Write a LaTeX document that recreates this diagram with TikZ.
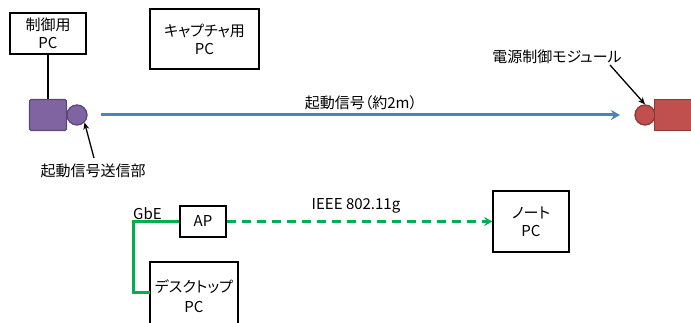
\documentclass[tikz,border=0pt]{standalone}
\usepackage{fontspec}
\setmainfont{Noto Sans CJK JP}[RawFeature=+palt]
\usetikzlibrary{arrows.meta}
\definecolor{pfill}{HTML}{8064A2}
\definecolor{pdraw}{HTML}{5C4776}
\definecolor{rfill}{HTML}{C0504D}
\definecolor{rdraw}{HTML}{8C3836}
\definecolor{bline}{HTML}{4F81BD}
\definecolor{gline}{HTML}{00B050}
\tikzset{
  pcbox/.style={draw=black, line width=1.5pt, fill=white, inner sep=0pt, align=center, font=\fontsize{15}{18}\selectfont},
  lbl/.style={inner sep=0pt, font=\fontsize{15}{18}\selectfont},
  ptr/.style={-{Stealth[length=7pt,width=6pt]}, line width=1.3pt, black}
}
\begin{document}
\begin{tikzpicture}[x=1pt,y=-1pt]
\useasboundingbox (0,0) rectangle (691,323);
\clip (0,0) rectangle (691,323);
% boxes
\node[pcbox, minimum width=76pt, minimum height=41pt] (ctl) at (48,33.5) {制御用\\PC};
\node[pcbox, minimum width=109pt, minimum height=60pt] (cap) at (204.5,39) {キャプチャ用\\PC};
\node[pcbox, minimum width=76pt, minimum height=61pt] (note) at (531,221.5) {ノート\\PC};
\node[pcbox, minimum width=46pt, minimum height=31pt] (ap) at (203,221.5) {AP};
% desktop box (cut by the bottom edge)
\draw[line width=1.5pt, fill=white] (150,335) -- (150,262) -- (238,262) -- (238,335);
\node[lbl, align=center, font=\fontsize{15}{20}\selectfont] (desk) at (194,296) {デスクトップ\\PC};
\coordinate (deskL) at (150,292);
% purple sender
\node[draw=pdraw, fill=pfill, line width=1.3pt, rounded corners=1.5pt, minimum width=37pt, minimum height=31pt, inner sep=0pt] (psq) at (48,115) {};
\node[draw=pdraw, fill=pfill, line width=1.3pt, circle, minimum size=20pt, inner sep=0pt] (pci) at (77,115) {};
% red module
\node[draw=rdraw, fill=rfill, line width=1.3pt, circle, minimum size=20pt, inner sep=0pt] (rci) at (645,115) {};
\node[draw=rdraw, fill=rfill, line width=1.3pt, minimum width=37pt, minimum height=31pt, inner sep=0pt] (rsq) at (673,115) {};
% control line
\draw[line width=1.5pt] (ctl.south) -- (psq.north);
% blue arrow
\coordinate (bs) at (101,115);
\coordinate (be) at (620,115);
\draw[bline, line width=3pt, -{Stealth[length=9pt,width=10pt]}] (bs) -- (be);
\node[lbl] (sig) at (361,103) {起動信号（約2m）};
% labels with pointers
\node[lbl] (sendlbl) at (93,171) {起動信号送信部};
\draw[ptr] (94,158) -- (pci.south east);
\node[lbl] (modlbl) at (557,57) {電源制御モジュール};
\draw[ptr] (610,65) -- (rci.north);
% green network
\draw[gline, line width=3pt] (ap.west) -- (133,221.5) -- (133,292) -- (deskL);
\node[lbl, anchor=south west] (gbe) at (133,220) {GbE};
\draw[gline, line width=3pt, dash pattern=on 9pt off 6pt, -{Stealth[length=8pt,width=9pt]}] (ap.east) -- (note.west);
\node[lbl] (ieee) at (356,206) {IEEE 802.11g};
\end{tikzpicture}
\end{document}
